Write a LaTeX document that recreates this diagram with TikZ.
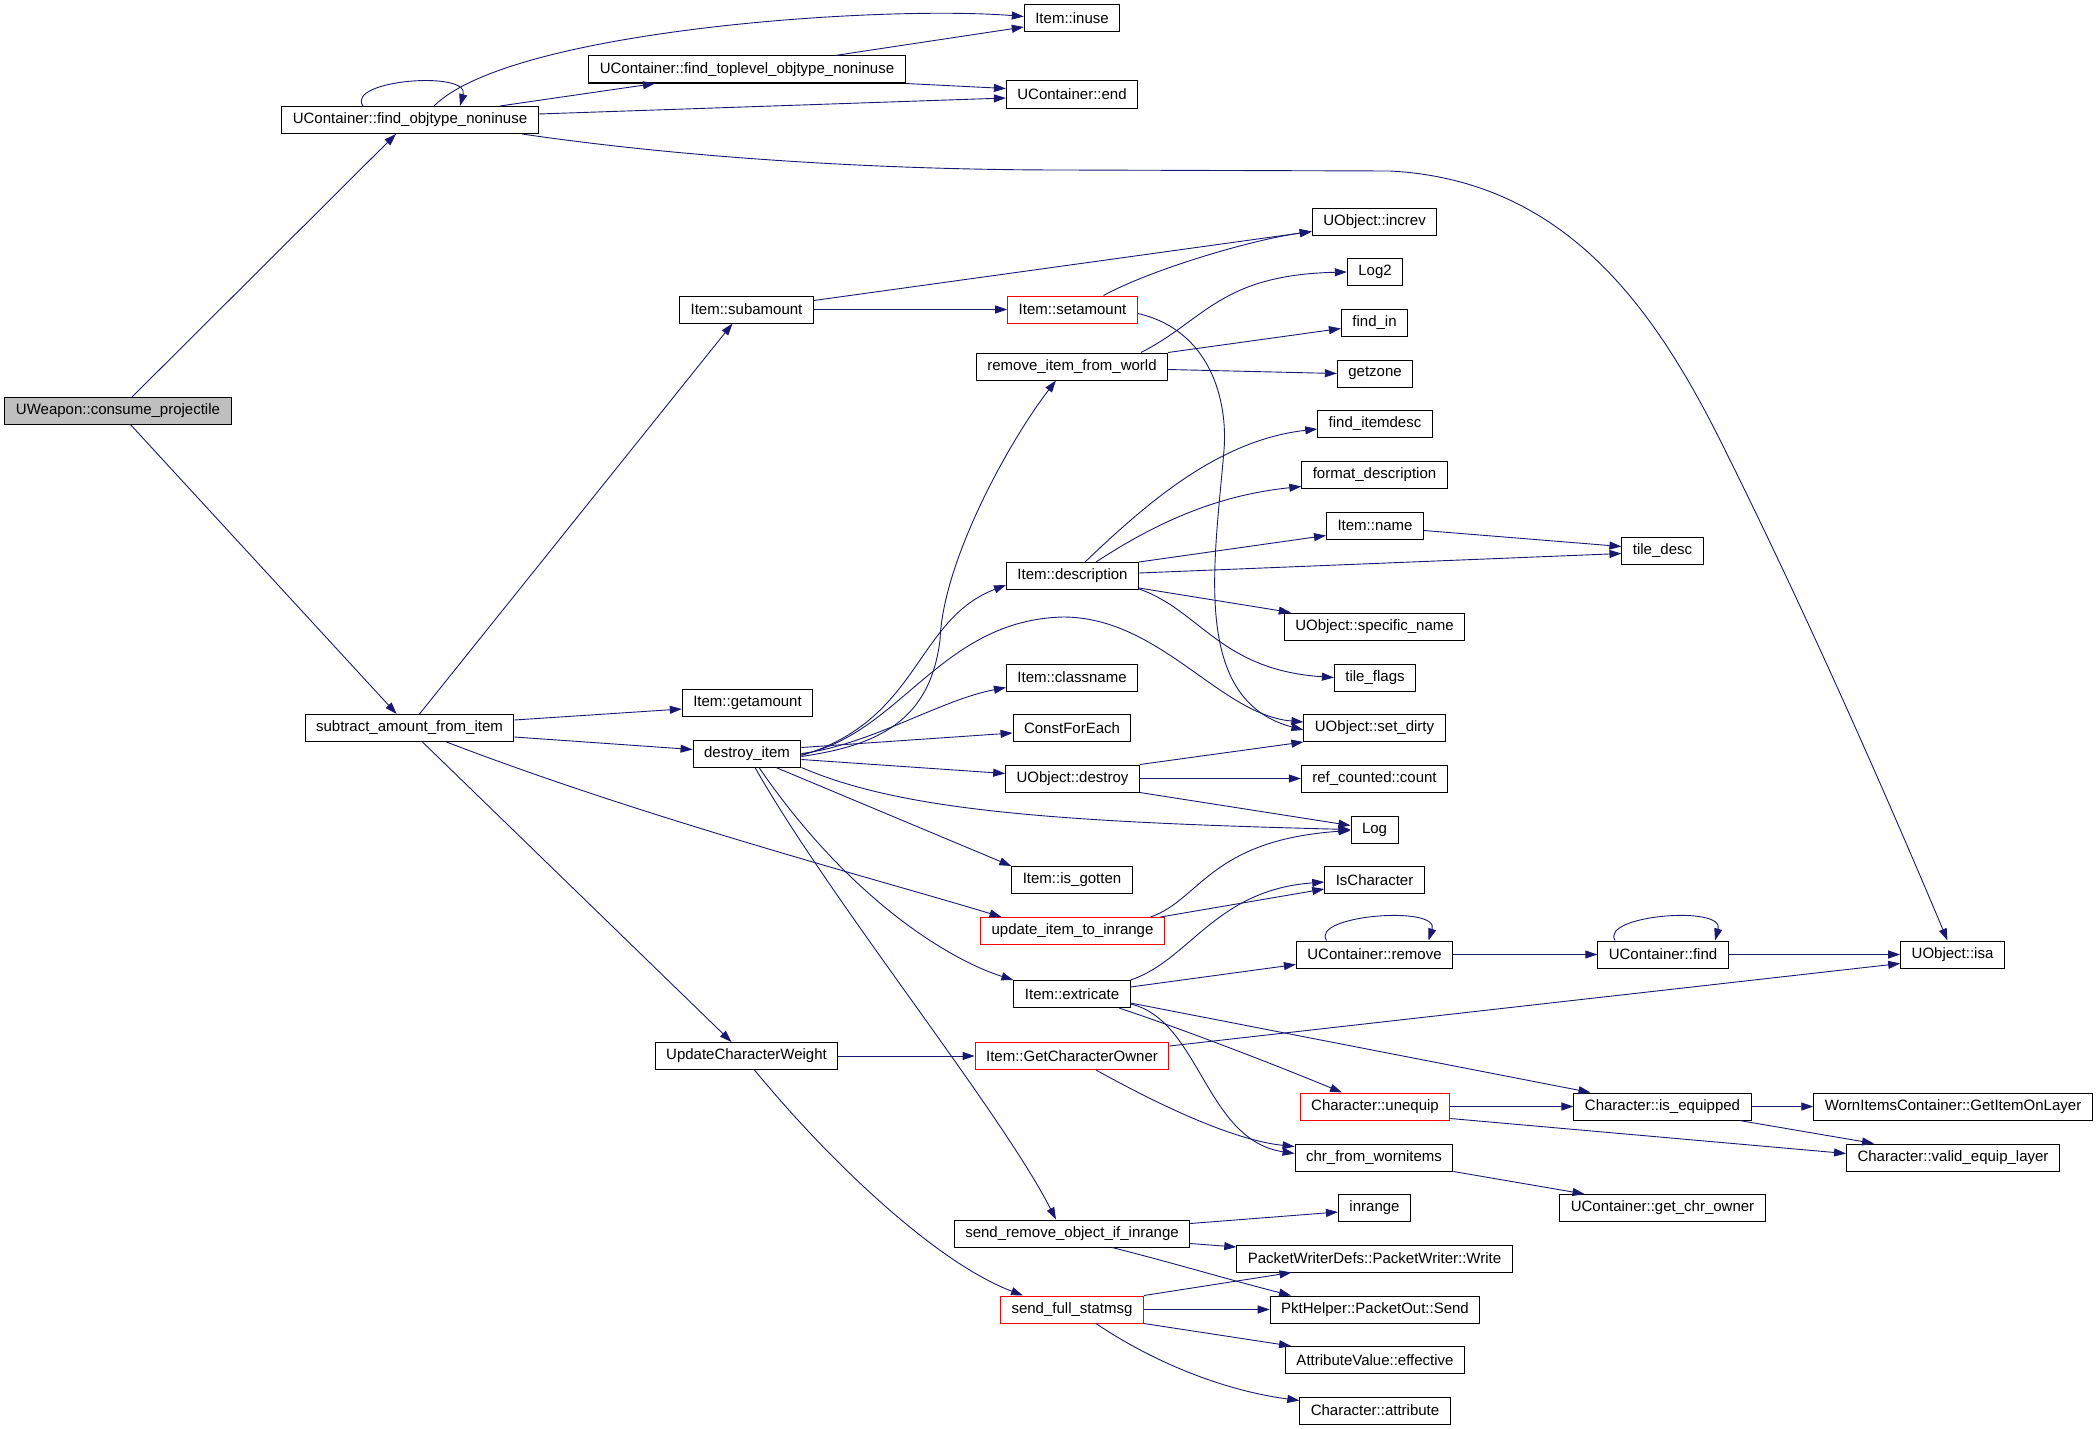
\documentclass[tikz,border=0pt]{standalone}
\usepackage{fontspec}
\setmainfont{Liberation Sans}
\usetikzlibrary{arrows.meta}

\definecolor{edgeblue}{HTML}{191970}
\definecolor{rootgray}{HTML}{BFBFBF}

\tikzset{
  fn/.style={draw=black,line width=1pt,inner xsep=11pt,inner ysep=0pt,
    minimum height=27pt,font=\fontsize{15}{18}\selectfont},
  fnred/.style={fn,draw=red},
  fnroot/.style={fn,fill=rootgray},
  call/.style={color=edgeblue,line width=0.9pt,-{Triangle[length=12pt,width=8pt]}},
}

\begin{document}
\begin{tikzpicture}[x=1pt,y=-1pt]

  \useasboundingbox (0,0) rectangle (2099,1429);

  \node[fnroot] (consume) at (118,411) {UWeapon::consume\_projectile};
  \node[fn] (findobj) at (410,120) {UContainer::find\_objtype\_noninuse};
  \node[fn] (findtop) at (747,69.5) {UContainer::find\_toplevel\_objtype\_noninuse};
  \node[fn] (inuse) at (1072,18.5) {Item::inuse};
  \node[fn] (cend) at (1072,94.5) {UContainer::end};
  \node[fn] (increv) at (1374.5,221.5) {UObject::increv};
  \node[fn] (logtwo) at (1375,272) {Log2};
  \node[fn] (findin) at (1374.5,322.5) {find\_in};
  \node[fn] (getzone) at (1375,373.5) {getzone};
  \node[fn] (subamount) at (746.5,309.5) {Item::subamount};
  \node[fnred] (setamount) at (1072.5,309.5) {Item::setamount};
  \node[fn] (removeitem) at (1072,366.5) {remove\_item\_from\_world};
  \node[fn] (finditemdesc) at (1375,424) {find\_itemdesc};
  \node[fn] (formatdesc) at (1374.5,474.5) {format\_description};
  \node[fn] (itemname) at (1375,525.5) {Item::name};
  \node[fn] (tiledesc) at (1662.5,550.5) {tile\_desc};
  \node[fn] (description) at (1072.5,576) {Item::description};
  \node[fn] (specname) at (1374.5,626.5) {UObject::specific\_name};
  \node[fn] (tileflags) at (1375,677.5) {tile\_flags};
  \node[fn] (subtract) at (409.5,728) {subtract\_amount\_from\_item};
  \node[fn] (getamount) at (747.5,702.5) {Item::getamount};
  \node[fn] (destroy) at (747,753.5) {destroy\_item};
  \node[fn] (classname) at (1072,677.5) {Item::classname};
  \node[fn] (constforeach) at (1072,728) {ConstForEach};
  \node[fn] (objdestroy) at (1072.5,778.5) {UObject::destroy};
  \node[fn] (setdirty) at (1374.5,728) {UObject::set\_dirty};
  \node[fn] (refcount) at (1374.5,778.5) {ref\_counted::count};
  \node[fn] (log) at (1374.5,829.5) {Log};
  \node[fn] (isgotten) at (1072,880) {Item::is\_gotten};
  \node[fn] (ischar) at (1374.5,880) {IsCharacter};
  \node[fnred] (updinrange) at (1072.5,931) {update\_item\_to\_inrange};
  \node[fn] (extricate) at (1072,994) {Item::extricate};
  \node[fn] (ucremove) at (1374.5,954.5) {UContainer::remove};
  \node[fn] (ucfind) at (1663,954.5) {UContainer::find};
  \node[fn] (isa) at (1952.5,954.5) {UObject::isa};
  \node[fn] (updweight) at (746.5,1056) {UpdateCharacterWeight};
  \node[fnred] (getowner) at (1072,1056) {Item::GetCharacterOwner};
  \node[fnred] (unequip) at (1375,1106.5) {Character::unequip};
  \node[fn] (isequipped) at (1662.5,1106.5) {Character::is\_equipped};
  \node[fn] (onlayer) at (1953,1106.5) {WornItemsContainer::GetItemOnLayer};
  \node[fn] (chrworn) at (1374,1157.5) {chr\_from\_wornitems};
  \node[fn] (validequip) at (1953,1157.5) {Character::valid\_equip\_layer};
  \node[fn] (chrowner) at (1662.5,1208) {UContainer::get\_chr\_owner};
  \node[fn] (inrange) at (1374.5,1208) {inrange};
  \node[fn] (sendremove) at (1072,1233.5) {send\_remove\_object\_if\_inrange};
  \node[fn] (pwwrite) at (1374.5,1258.5) {PacketWriterDefs::PacketWriter::Write};
  \node[fnred] (fullstat) at (1072,1309.5) {send\_full\_statmsg};
  \node[fn] (pktsend) at (1375,1309.5) {PktHelper::PacketOut::Send};
  \node[fn] (effective) at (1375,1360) {AttributeValue::effective};
  \node[fn] (attribute) at (1375,1410.5) {Character::attribute};

  \foreach \a/\b in {consume/findobj,consume/subtract,subamount/setamount,
    objdestroy/refcount,ucremove/ucfind,ucfind/isa,updweight/getowner,
    unequip/isequipped,isequipped/onlayer,fullstat/pktsend} {
    \draw[call] (\a) -- (\b);
  }

  \draw[call] ([xshift=-47pt]findobj.north) .. controls (345,80) and (470,70) .. ([xshift=50pt]findobj.north);
  \draw[call] ([xshift=24pt]findobj.north) .. controls (510,30) and (880,5) .. ([yshift=2pt]inuse.west);
  \draw[call] ([xshift=90pt]findobj.north) -- ([xshift=-92pt]findtop.south);
  \draw[call] ([yshift=6pt]findobj.east) -- ([yshift=-3.5pt]cend.west);
  \draw[call] ([xshift=112pt]findobj.south) .. controls (700,160) and (900,170) .. (1063,170) -- (1390,171)
    .. controls (1560,180) and (1650,300) .. (1720,440) .. controls (1800,600) and (1880,780) .. ([xshift=-5pt]isa.north);
  \draw[call] ([xshift=88pt]findtop.north) -- ([yshift=-8.5pt]inuse.west);
  \draw[call] (findtop.south east) -- ([yshift=6pt]cend.west);

  \draw[call] ([xshift=10pt]subtract.north) -- ([xshift=-14pt]subamount.south);
  \draw[call] ([yshift=8pt]subtract.east) -- ([yshift=-6.5pt]getamount.west);
  \draw[call] ([yshift=-9pt]subtract.east) -- ([yshift=4pt]destroy.west);
  \draw[call] ([xshift=37pt]subtract.south) .. controls (650,820) and (880,880) .. ([xshift=-71pt]updinrange.north);
  \draw[call] ([xshift=13pt]subtract.south) -- ([xshift=-15pt]updweight.north);

  \draw[call] ([yshift=9pt]subamount.east) -- ([yshift=-10pt]increv.west);
  \draw[call] ([xshift=31pt]setamount.north) .. controls (1150,270) and (1250,240) .. ([yshift=-10pt]increv.west);
  \draw[call] ([yshift=-4pt]setamount.east) .. controls (1210,330) and (1228,400) .. (1224,450)
    .. controls (1215,560) and (1190,700) .. ([yshift=-2pt]setdirty.west);

  \draw[call] ([xshift=69pt]removeitem.north) .. controls (1205,320) and (1220,275) .. (logtwo.west);
  \draw[call] (removeitem.north east) -- ([yshift=-6pt]findin.west);
  \draw[call] ([yshift=-3pt]removeitem.east) -- (getzone.west);

  \draw[call] ([yshift=-3pt]destroy.east) .. controls (880,745) and (930,720) .. (940,640)
    .. controls (943,560) and (1010,440) .. ([xshift=-16pt]removeitem.south);
  \draw[call] ([yshift=-2pt]destroy.east) .. controls (920,720) and (915,620) .. ([yshift=-9pt]description.west);
  \draw[call] ([yshift=-1pt]destroy.east) .. controls (900,735) and (940,620) .. (1063,617)
    .. controls (1160,617) and (1220,715) .. ([yshift=6pt]setdirty.west);
  \draw[call] (destroy.east) .. controls (870,745) and (940,700) .. ([yshift=-10pt]classname.west);
  \draw[call] ([yshift=6pt]destroy.east) -- ([yshift=-5pt]constforeach.west);
  \draw[call] ([yshift=-6pt]destroy.east) -- ([yshift=5pt]objdestroy.west);
  \draw[call] (destroy.south east) .. controls (900,810) and (1050,822) .. (log.west);
  \draw[call] ([xshift=29pt]destroy.south) -- (isgotten.north west);
  \draw[call] ([xshift=12pt]destroy.south) .. controls (850,900) and (950,960) .. (extricate.north west);
  \draw[call] ([xshift=8pt]destroy.south) .. controls (830,900) and (1000,1110) .. ([xshift=-16pt]sendremove.north);

  \draw[call] ([xshift=12.5pt]description.north) .. controls (1150,500) and (1220,440) .. ([yshift=-5pt]finditemdesc.west);
  \draw[call] ([xshift=23.5pt]description.north) .. controls (1160,520) and (1220,495) .. ([yshift=-12pt]formatdesc.west);
  \draw[call] (description.north east) -- ([yshift=-10pt]itemname.west);
  \draw[call] ([yshift=3pt]description.east) -- ([yshift=-3pt]tiledesc.west);
  \draw[call] ([yshift=-12pt]description.east) -- ([xshift=7pt]specname.north west);
  \draw[call] ([yshift=-13pt]description.east) .. controls (1200,610) and (1220,670) .. (tileflags.west);
  \draw[call] ([yshift=-5pt]itemname.east) -- ([yshift=4pt]tiledesc.west);

  \draw[call] (objdestroy.north east) -- (setdirty.south west);
  \draw[call] (objdestroy.south east) -- ([yshift=4pt]log.west);

  \draw[call] ([xshift=78pt]updinrange.north) .. controls (1200,900) and (1210,840) .. ([yshift=-1pt]log.west);
  \draw[call] ([xshift=88pt]updinrange.north) -- ([yshift=-9pt]ischar.west);

  \draw[call] (extricate.north east) .. controls (1190,960) and (1215,890) .. ([yshift=-2pt]ischar.west);
  \draw[call] ([yshift=7pt]extricate.east) -- ([yshift=-10pt]ucremove.west);
  \draw[call] ([yshift=-9pt]extricate.east) -- ([xshift=-72pt]isequipped.north);
  \draw[call] ([xshift=47pt]extricate.south) .. controls (1200,1035) and (1300,1075) .. ([xshift=-33pt]unequip.north);
  \draw[call] ([yshift=-10pt]extricate.east) .. controls (1200,1020) and (1205,1140) .. ([yshift=4pt]chrworn.west);

  \draw[call] ([xshift=-48pt]ucremove.north) .. controls (1310,915) and (1440,905) .. ([xshift=54pt]ucremove.north);
  \draw[call] ([xshift=-48pt]ucfind.north) .. controls (1600,915) and (1725,905) .. ([xshift=52pt]ucfind.north);

  \draw[call] ([yshift=10pt]getowner.east) -- ([yshift=-9pt]isa.west);
  \draw[call] ([xshift=24pt]getowner.south) .. controls (1150,1100) and (1230,1140) .. ([yshift=11pt]chrworn.west);
  \draw[call] ([xshift=8pt]updweight.south) .. controls (820,1150) and (930,1260) .. ([xshift=-49pt]fullstat.north);

  \draw[call] ([yshift=-12pt]unequip.east) -- ([yshift=4pt]validequip.west);
  \draw[call] ([xshift=77pt]isequipped.south) -- ([xshift=-79pt]validequip.north);
  \draw[call] (chrworn.south east) -- ([xshift=-78pt]chrowner.north);

  \draw[call] ([yshift=10pt]sendremove.east) -- ([yshift=-4pt]inrange.west);
  \draw[call] ([yshift=-10pt]sendremove.east) -- ([yshift=11.5pt]pwwrite.west);
  \draw[call] ([xshift=40pt]sendremove.south) .. controls (1170,1262) and (1230,1280) .. ([xshift=-84pt]pktsend.north);
  \draw[call] (fullstat.north east) -- ([xshift=-83pt]pwwrite.south);
  \draw[call] (fullstat.south east) -- ([xshift=-84pt]effective.north);
  \draw[call] ([xshift=24pt]fullstat.south) .. controls (1150,1360) and (1220,1390) .. ([yshift=10pt]attribute.west);

\end{tikzpicture}
\end{document}
